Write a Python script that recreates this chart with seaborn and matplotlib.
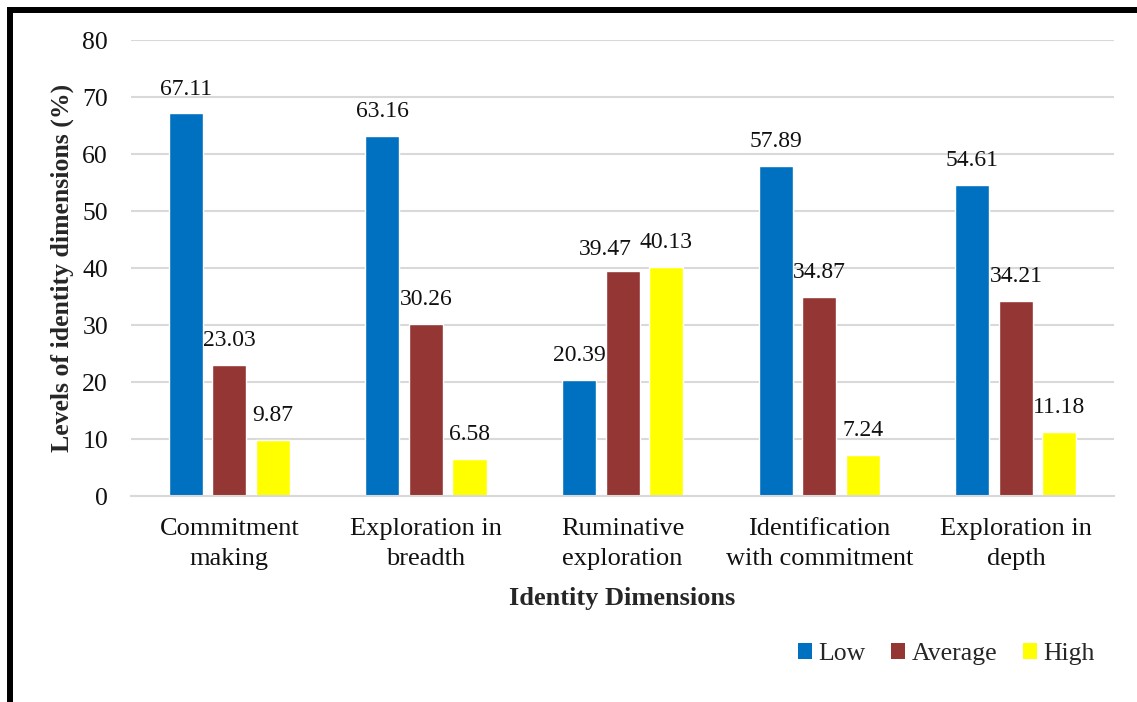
import matplotlib
matplotlib.use("Agg")
import matplotlib.pyplot as plt
import seaborn as sns
import pandas as pd
from matplotlib.patches import Rectangle

categories = ["Commitment\nmaking", "Exploration in\nbreadth", "Ruminative\nexploration",
              "Identification\nwith commitment", "Exploration in\ndepth"]
levels = ["Low", "Average", "High"]
low = [67.11, 63.16, 20.39, 57.89, 54.61]
average = [23.03, 30.26, 39.47, 34.87, 34.21]
high = [9.87, 6.58, 40.13, 7.24, 11.18]
colors = ["#0070C0", "#943634", "#FFFF00"]

rows = []
for lvl, vals in zip(levels, [low, average, high]):
    for c, v in zip(categories, vals):
        rows.append({"Dimension": c, "Level": lvl, "Value": v})
df = pd.DataFrame(rows)

sns.set_theme(style="white")
plt.rcParams["font.family"] = ["Liberation Serif", "DejaVu Serif"]

fig = plt.figure(figsize=(11.37, 7.02), dpi=100)
ax = fig.add_axes([0.1152, 0.2934, 0.8648, 0.6496])

sns.barplot(data=df, x="Dimension", y="Value", hue="Level", order=categories,
            hue_order=levels, palette=colors, width=0.664, gap=0.218,
            saturation=1, ax=ax, legend=True)

pad = 10
for i, cont in enumerate(ax.containers):
    anns = ax.bar_label(cont, labels=[f"{v:.2f}" for v in cont.datavalues],
                        padding=pad, fontsize=17, color="#111111")
    if i == 1:
        # Average label in the "Ruminative exploration" group sits left to avoid overlap
        anns[2].xyann = (-12.2, pad - 2)

ax.set_ylim(0, 80)
ax.set_yticks(range(0, 81, 10))
ax.set_xlim(-0.5, 4.5)
ax.yaxis.grid(True, color="#D9D9D9", linewidth=1.5)
ax.set_axisbelow(True)
for s in ["top", "right", "left"]:
    ax.spines[s].set_visible(False)
ax.spines["bottom"].set_color("#D9D9D9")
ax.spines["bottom"].set_linewidth(1.5)
ax.tick_params(axis="y", labelsize=18.5, pad=16.5, length=0, colors="#111111")
ax.tick_params(axis="x", labelsize=19, pad=16, length=0, colors="#111111")
for t in ax.get_xticklabels():
    t.set_linespacing(1.45)
ax.set_xlabel("Identity Dimensions", fontsize=19, fontweight="bold", labelpad=12)
ax.set_ylabel("Levels of identity dimensions (%)", fontsize=18.5, fontweight="bold", labelpad=6)

ax.get_legend().remove()
handles = [Rectangle((0, 0), 1, 1, facecolor=c, edgecolor="none") for c in colors]
fig.legend(handles, levels, loc="center right", bbox_to_anchor=(1095 / 1137, 1 - 654 / 702),
           ncol=3, frameon=False, fontsize=18.5, handlelength=0.55, handleheight=0.55,
           handletextpad=0.25, columnspacing=1.0, borderpad=0, borderaxespad=0)

fig.patches.append(Rectangle((0.0085, -0.05), 1.1, 1.0358, transform=fig.transFigure,
                             fill=False, edgecolor="black", linewidth=4.3, zorder=10))

fig.savefig("out.png", dpi=100)
